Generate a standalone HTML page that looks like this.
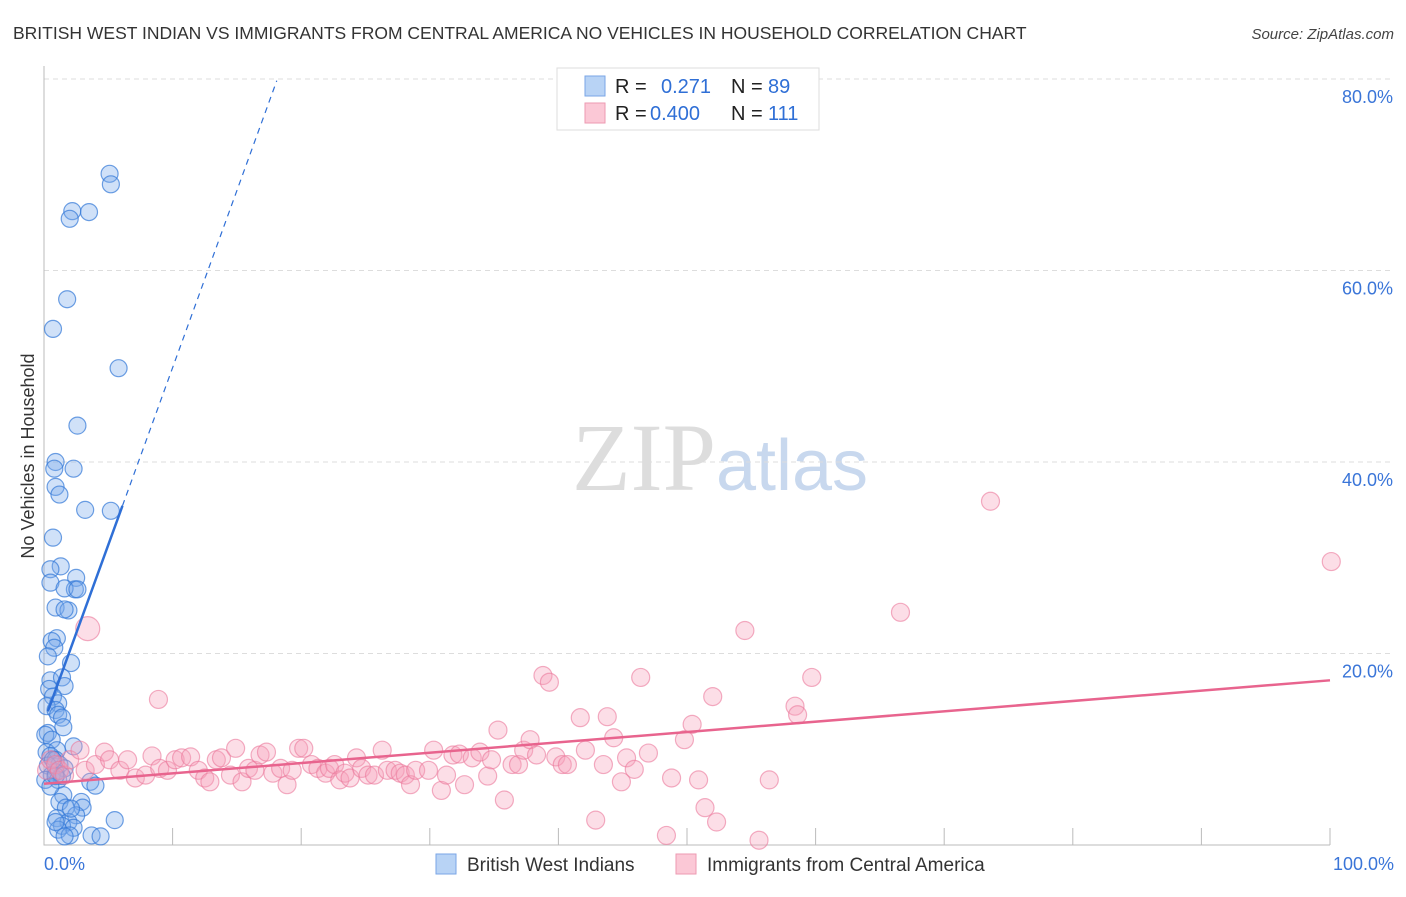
<!DOCTYPE html>
<html><head><meta charset="utf-8"><style>
body{margin:0;background:#fff;font-family:"Liberation Sans",sans-serif}
</style></head><body>
<svg id="chart" width="1406" height="892" xmlns="http://www.w3.org/2000/svg" font-family="Liberation Sans, sans-serif">
<text x="13" y="39" font-size="17.5" fill="#333">BRITISH WEST INDIAN VS IMMIGRANTS FROM CENTRAL AMERICA NO VEHICLES IN HOUSEHOLD CORRELATION CHART</text>
<text x="1394" y="39" font-size="15" fill="#444" text-anchor="end" font-style="italic">Source: ZipAtlas.com</text>
<text x="720" y="490" font-size="96" text-anchor="middle" fill="#ddd" font-family="Liberation Serif, serif">ZIP<tspan fill="#c8d8ee" font-family="Liberation Sans, sans-serif" font-size="72">atlas</tspan></text>
<g id="grid"></g>
<g id="axes"></g>
<g id="marks"></g>
<text transform="translate(34,456) rotate(-90)" font-size="18" fill="#333" text-anchor="middle">No Vehicles in Household</text>
<g>
<rect x="557" y="68" width="262" height="62" fill="#fff" stroke="#ddd"/>
<rect x="585" y="76" width="20" height="20" fill="#b8d3f5" stroke="#7aa6e6"/>
<text x="615" y="93" font-size="20" fill="#222">R = </text><text x="661" y="93" font-size="20" fill="#2f6fd6">0.271</text>
<text x="731" y="93" font-size="20" fill="#222">N = </text><text x="768" y="93" font-size="20" fill="#2f6fd6">89</text>
<rect x="585" y="103" width="20" height="20" fill="#fbc8d6" stroke="#ec9ab2"/>
<text x="615" y="120" font-size="20" fill="#222">R = </text><text x="650" y="120" font-size="20" fill="#2f6fd6">0.400</text>
<text x="731" y="120" font-size="20" fill="#222">N = </text><text x="768" y="120" font-size="20" fill="#2f6fd6">111</text>
</g>
<g>
<rect x="436" y="854" width="20" height="20" fill="#b8d3f5" stroke="#7aa6e6"/>
<text x="467" y="871" font-size="19" fill="#333">British West Indians</text>
<rect x="676" y="854" width="20" height="20" fill="#fbc8d6" stroke="#ec9ab2"/>
<text x="707" y="871" font-size="19" fill="#333">Immigrants from Central America</text>
</g>
</svg>
<script>
const yTicks=[20,40,60,80];
const yTickLabels=["20.0%","40.0%","60.0%","80.0%"];
const xTickLabels=["0.0%","100.0%"];
const blueX=[5.1,5.2,2.2,3.5,2.0,1.8,0.7,5.8,2.6,0.9,0.8,2.3,0.9,1.2,3.2,5.2,0.7,1.3,0.5,2.5,0.5,2.4,1.6,2.6,0.9,1.9,1.6,1.0,0.6,0.8,0.3,2.1,0.5,1.4,1.6,0.4,0.7,1.1,0.2,0.9,1.1,1.4,1.5,0.3,0.1,0.6,0.2,1.0,2.3,0.5,0.9,1.2,1.6,0.9,0.3,0.6,0.1,1.1,1.4,3.6,4.0,1.5,1.2,2.9,1.7,3.0,1.0,2.5,1.9,1.4,2.3,1.1,2.0,1.6,3.7,4.4,5.5,2.1,0.9,0.5,0.7,0.9];
const blueY=[70.1,69.0,66.2,66.1,65.4,57.0,53.9,49.8,43.8,40.0,39.3,39.3,37.4,36.6,35.0,34.9,32.1,29.1,28.8,27.9,27.4,26.7,26.8,26.7,24.8,24.5,24.6,21.6,21.3,20.6,19.7,19.0,17.2,17.5,16.6,16.3,15.5,14.8,14.5,14.1,13.6,13.3,12.3,11.7,11.5,11.0,9.7,9.9,10.3,9.3,8.9,8.4,8.0,7.6,8.3,7.3,6.8,6.8,7.2,6.6,6.2,5.2,4.5,4.5,3.9,3.9,2.8,3.1,2.4,2.0,1.8,1.6,1.0,0.9,1.0,0.9,2.6,3.8,2.4,6.1,8.9,7.2];
const pinkX=[3.4,8.9,0.2,0.5,0.9,1.2,1.6,2.0,2.8,3.2,4.0,4.7,5.1,5.9,6.5,7.1,7.9,8.4,9.0,9.6,10.2,10.7,11.4,12.0,12.5,12.9,13.4,13.8,14.5,14.9,15.4,15.9,16.4,16.8,17.3,17.8,18.4,18.9,19.3,19.8,20.2,20.8,21.3,21.9,22.2,22.6,23.0,23.4,23.8,24.3,24.7,25.2,25.7,26.3,26.7,27.3,27.7,28.1,28.5,28.9,29.9,30.3,30.9,31.3,31.8,32.3,32.7,33.3,33.9,34.5,34.8,35.3,35.8,36.4,36.9,37.3,37.8,38.3,38.8,39.3,39.8,40.3,40.7,41.7,42.1,42.9,43.5,43.8,44.3,44.9,45.3,45.9,46.4,47.0,48.4,48.8,49.8,50.4,50.9,51.4,52.0,52.3,54.5,55.6,56.4,58.4,58.6,59.7,66.6,73.6,100.1];
const pinkY=[22.6,15.2,7.8,8.9,8.4,7.8,7.3,8.9,9.9,7.8,8.4,9.7,8.9,7.8,8.9,7.0,7.3,9.3,8.0,7.8,8.9,9.1,9.2,7.8,7.0,6.6,8.9,9.1,7.3,10.1,6.6,8.0,7.8,9.4,9.7,7.5,8.0,6.3,7.8,10.1,10.1,8.4,8.0,7.5,8.0,8.4,6.8,7.5,7.0,9.1,8.0,7.3,7.3,9.9,7.8,7.8,7.5,7.3,6.3,7.8,7.8,9.9,5.7,7.3,9.4,9.5,6.3,9.1,9.7,7.2,8.9,12.0,4.7,8.4,8.4,9.9,11.0,9.4,17.7,17.0,9.2,8.4,8.4,13.3,9.9,2.6,8.4,13.4,11.2,6.6,9.1,7.9,17.5,9.6,1.0,7.0,11.0,12.6,6.8,3.9,15.5,2.4,22.4,0.5,6.8,14.5,13.6,17.5,24.3,35.9,29.6];
const X0=44,X1=1330,Y0=845,YSCALE=9.575;
const sx=v=>X0+(X1-X0)*v/100, sy=v=>Y0-v*YSCALE;
const NS="http://www.w3.org/2000/svg";
function mk(tag,attrs,parent){const e=document.createElementNS(NS,tag);for(const k in attrs)e.setAttribute(k,attrs[k]);parent.appendChild(e);return e;}
const grid=document.getElementById('grid'),axes=document.getElementById('axes'),marks=document.getElementById('marks');
yTicks.forEach((t,i)=>{
 const g=mk('line',{x1:X0,x2:1394,y1:sy(t),y2:sy(t),stroke:'#ddd','stroke-dasharray':'5,4'},grid);
 
 
 const l=mk('text',{x:1393,y:sy(t)+24,'font-size':18,fill:'#3a75d8','text-anchor':'end'},axes);
 l.textContent=yTickLabels[i];
 
 
});
const ax=mk('path',{d:`M${X0},66 V${Y0} H${X1}`,stroke:'#bbb',fill:'none'},axes);


for(let i=0;i<=10;i++){const t=mk('line',{x1:sx(i*10),x2:sx(i*10),y1:Y0,y2:828,stroke:'#bbb'},axes);
 
 }
[[0,44,'start'],[1,1394,'end']].forEach(([i,x,a])=>{const l=mk('text',{x:x,y:870,'font-size':18,fill:'#3a75d8','text-anchor':a},axes);l.textContent=xTickLabels[i];
 
 });
blueX.forEach((x,i)=>{const c=mk('circle',{cx:sx(x),cy:sy(blueY[i]),r:8.5,fill:'rgba(120,170,235,0.35)',stroke:'rgba(50,120,215,0.7)','stroke-width':1.2},marks);
 
 });
pinkX.forEach((x,i)=>{const c=mk('circle',{cx:sx(x),cy:sy(pinkY[i]),r:i==0?12:9,fill:'rgba(245,160,185,0.35)',stroke:'rgba(235,120,155,0.6)','stroke-width':1.2},marks);
 
 });
const bA=12.85,bB=3.7;
const b1=mk('line',{x1:sx(0.3),y1:sy(bA+bB*0.3),x2:sx(6.1),y2:sy(bA+bB*6.1),stroke:'#2f6fd6','stroke-width':2.5},marks);


const b2=mk('line',{x1:sx(6.1),y1:sy(bA+bB*6.1),x2:sx(18.1),y2:sy(bA+bB*18.1),stroke:'#2f6fd6','stroke-width':1.2,'stroke-dasharray':'6,5'},marks);


const pA=6.4,pB=0.108;
const p1=mk('line',{x1:sx(0),y1:sy(pA),x2:sx(100),y2:sy(pA+pB*100),stroke:'#e8648e','stroke-width':2.5},marks);


</script>
</body></html>
